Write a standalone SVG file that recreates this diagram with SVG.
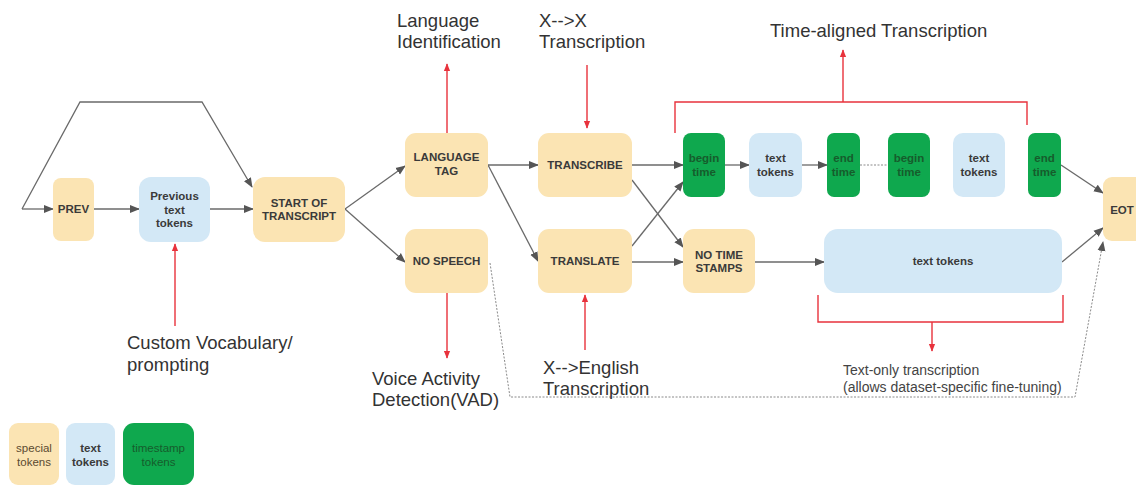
<svg xmlns="http://www.w3.org/2000/svg" width="1136" height="486" viewBox="0 0 1136 486">
<style>
.sp{fill:#fbe4b3}
.tx{fill:#d3e8f6}
.ts{fill:#0fa84e}
.nt{font-family:"Liberation Sans",Arial,sans-serif;font-size:11.5px;font-weight:bold;fill:#3a3a3a;text-anchor:middle}
.gt{font-family:"Liberation Sans",Arial,sans-serif;font-size:11.5px;font-weight:bold;fill:#165c2c;text-anchor:middle}
.lb{font-family:"Liberation Sans",Arial,sans-serif;font-size:18.5px;fill:#333}
.sm{font-family:"Liberation Sans",Arial,sans-serif;font-size:14px;fill:#444}
.lg{font-family:"Liberation Sans",Arial,sans-serif;font-size:11.5px;text-anchor:middle}
.e{fill:none;stroke:#6a6a6a;stroke-width:1.3}
.d{fill:none;stroke:#8a8a8a;stroke-width:1;stroke-dasharray:2 1.5}
.r{fill:none;stroke:#e8323c;stroke-width:1.4}
</style>
<defs>
<marker id="ah" markerUnits="userSpaceOnUse" markerWidth="10" markerHeight="10" viewBox="0 0 10 10" refX="9" refY="5" orient="auto"><path d="M0,1 L10,5 L0,9 z" fill="#555"/></marker>
<marker id="rh" markerUnits="userSpaceOnUse" markerWidth="8" markerHeight="8" viewBox="0 0 10 10" refX="9" refY="5" orient="auto"><path d="M0,1 L10,5 L0,9 z" fill="#e8323c"/></marker>
</defs>
<rect width="1136" height="486" fill="#fff"/>

<g id="connectors">
<path class="e" d="M22,209 L53,209" marker-end="url(#ah)"/>
<path class="e" d="M94,209 L139,209" marker-end="url(#ah)"/>
<path class="e" d="M210,209 L253,209" marker-end="url(#ah)"/>
<path class="e" d="M22,209 L80,102 L202,102 L252,187" marker-end="url(#ah)"/>
<path class="e" d="M345,209 L405,166" marker-end="url(#ah)"/>
<path class="e" d="M345,209 L405,262" marker-end="url(#ah)"/>
<path class="e" d="M488,165 L538,165" marker-end="url(#ah)"/>
<path class="e" d="M488,165 L538,261" marker-end="url(#ah)"/>
<path class="e" d="M632,165 L683,165" marker-end="url(#ah)"/>
<path class="e" d="M632,180 L683,247" marker-end="url(#ah)"/>
<path class="e" d="M632,246 L683,182" marker-end="url(#ah)"/>
<path class="e" d="M632,262 L683,262" marker-end="url(#ah)"/>
<path class="e" d="M725,165 L749,165" marker-end="url(#ah)"/>
<path class="e" d="M802,165 L827,165" marker-end="url(#ah)"/>
<path class="d" d="M860,165 L888,165"/>
<path class="e" d="M1061,165 L1103,193" marker-end="url(#ah)"/>
<path class="e" d="M755,262 L824,262" marker-end="url(#ah)"/>
<path class="e" d="M1062,262 L1103,228" marker-end="url(#ah)"/>
<path class="d" d="M490,263 L510,397 L1075,397 L1103,242" marker-end="url(#ah)"/>
<path class="r" d="M447,133 L447,64" marker-end="url(#rh)"/>
<path class="r" d="M587,65 L587,128" marker-end="url(#rh)"/>
<path class="r" d="M675,133 L675,102 L1027,102 L1027,125"/>
<path class="r" d="M843,102 L843,50" marker-end="url(#rh)"/>
<path class="r" d="M447,293 L447,358" marker-end="url(#rh)"/>
<path class="r" d="M585,350 L585,295" marker-end="url(#rh)"/>
<path class="r" d="M175,326 L175,244" marker-end="url(#rh)"/>
<path class="r" d="M818,295 L818,322 L1063,322 L1063,295"/>
<path class="r" d="M932,322 L932,351" marker-end="url(#rh)"/>
</g>

<g id="prev"><rect class="sp" x="53" y="178" width="41" height="63" rx="8"/><text class="nt" x="73.5" y="213">PREV</text></g>
<g id="prevtext"><rect class="tx" x="139" y="177" width="71" height="65" rx="12"/><text class="nt" x="174.5" y="200">Previous</text><text class="nt" x="174.5" y="214">text</text><text class="nt" x="174.5" y="227">tokens</text></g>
<g id="sot"><rect class="sp" x="253" y="177" width="92" height="65" rx="12"/><text class="nt" x="299" y="207">START OF</text><text class="nt" x="299" y="220">TRANSCRIPT</text></g>
<g id="langtag"><rect class="sp" x="405" y="133" width="83" height="64" rx="11"/><text class="nt" x="446.5" y="161">LANGUAGE</text><text class="nt" x="446.5" y="175">TAG</text></g>
<g id="nospeech"><rect class="sp" x="405" y="229" width="83" height="64" rx="11"/><text class="nt" x="446.5" y="265">NO SPEECH</text></g>
<g id="transcribe"><rect class="sp" x="538" y="133" width="94" height="64" rx="11"/><text class="nt" x="585" y="169">TRANSCRIBE</text></g>
<g id="translate"><rect class="sp" x="538" y="229" width="94" height="64" rx="11"/><text class="nt" x="585" y="265">TRANSLATE</text></g>
<g id="begin1"><rect class="ts" x="683" y="133" width="42" height="64" rx="8"/><text class="gt" x="704" y="162">begin</text><text class="gt" x="704" y="176">time</text></g>
<g id="text1"><rect class="tx" x="749" y="133" width="53" height="64" rx="10"/><text class="nt" x="775.5" y="162">text</text><text class="nt" x="775.5" y="176">tokens</text></g>
<g id="end1"><rect class="ts" x="827" y="133" width="33" height="64" rx="7"/><text class="gt" x="843.5" y="162">end</text><text class="gt" x="843.5" y="176">time</text></g>
<g id="begin2"><rect class="ts" x="888" y="133" width="42" height="64" rx="8"/><text class="gt" x="909" y="162">begin</text><text class="gt" x="909" y="176">time</text></g>
<g id="text2"><rect class="tx" x="953" y="133" width="52" height="64" rx="10"/><text class="nt" x="979" y="162">text</text><text class="nt" x="979" y="176">tokens</text></g>
<g id="end2"><rect class="ts" x="1028" y="133" width="33" height="64" rx="7"/><text class="gt" x="1044.5" y="162">end</text><text class="gt" x="1044.5" y="176">time</text></g>
<g id="eot"><rect class="sp" x="1103" y="177" width="45" height="64" rx="9"/><text class="nt" x="1122" y="214">EOT</text></g>
<g id="notime"><rect class="sp" x="683" y="229" width="72" height="64" rx="11"/><text class="nt" x="719" y="259">NO TIME</text><text class="nt" x="719" y="272">STAMPS</text></g>
<g id="texttokens"><rect class="tx" x="824" y="229" width="238" height="64" rx="14"/><text class="nt" x="943" y="265">text tokens</text></g>

<g id="labels">
<text class="lb" x="397" y="27">Language</text><text class="lb" x="397" y="48">Identification</text>
<text class="lb" x="539" y="27">X--&gt;X</text><text class="lb" x="539" y="48">Transcription</text>
<text class="lb" x="770" y="37">Time-aligned Transcription</text>
<text class="lb" x="127" y="349">Custom Vocabulary/</text><text class="lb" x="127" y="371">prompting</text>
<text class="lb" x="372" y="385">Voice Activity</text><text class="lb" x="372" y="406">Detection(VAD)</text>
<text class="lb" x="543" y="374">X--&gt;English</text><text class="lb" x="543" y="395">Transcription</text>
<text class="sm" x="843" y="375">Text-only transcription</text><text class="sm" x="843" y="392">(allows dataset-specific fine-tuning)</text>
</g>

<g id="legend">
<rect class="sp" x="9" y="423" width="50" height="62" rx="9"/><text class="lg" x="34" y="452" fill="#5a4a30">special</text><text class="lg" x="34" y="466" fill="#5a4a30">tokens</text>
<rect class="tx" x="66" y="423" width="49" height="62" rx="9"/><text class="lg" x="90.5" y="452" fill="#3a3a3a" font-weight="bold">text</text><text class="lg" x="90.5" y="466" fill="#3a3a3a" font-weight="bold">tokens</text>
<rect class="ts" x="123" y="423" width="71" height="62" rx="11"/><text class="lg" x="158.5" y="452" fill="#165c2c" font-size="12.5">timestamp</text><text class="lg" x="158.5" y="466" fill="#165c2c" font-size="12.5">tokens</text>
</g>
</svg>
